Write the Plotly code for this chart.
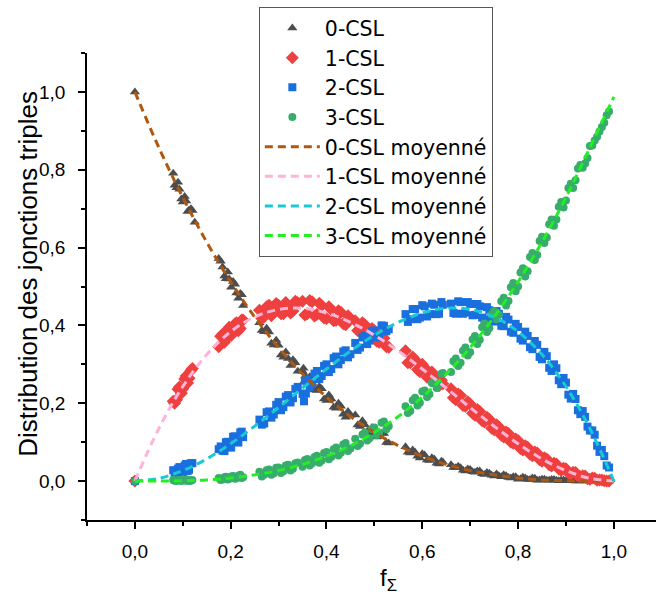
import plotly.graph_objects as go

# ---------------- data ----------------
F_SIGMA = [0.0,
    0.080, 0.087, 0.093, 0.100, 0.107, 0.113, 0.120,
    0.175, 0.183, 0.190, 0.197, 0.205, 0.212, 0.220, 0.226,
    0.260, 0.270, 0.280, 0.290, 0.300, 0.310, 0.320, 0.330, 0.340,
    0.350, 0.360, 0.370, 0.380, 0.390, 0.400, 0.410, 0.420, 0.430, 0.440, 0.450,
    0.460, 0.470, 0.480, 0.490, 0.500, 0.510, 0.520, 0.530,
    0.565, 0.575, 0.585, 0.595, 0.605, 0.615, 0.625, 0.635, 0.643,
    0.66, 0.67, 0.68, 0.69, 0.70, 0.71, 0.72, 0.73, 0.74, 0.75, 0.76, 0.77,
    0.78, 0.79, 0.80, 0.81, 0.82, 0.83, 0.84, 0.85, 0.86, 0.87, 0.88, 0.89,
    0.90, 0.91, 0.92, 0.93, 0.94, 0.95, 0.96, 0.97, 0.98, 0.99]

CSL0 = [1.0,
    0.791, 0.754, 0.750, 0.717, 0.720, 0.696, 0.695,
    0.572, 0.550, 0.520, 0.519, 0.513, 0.483, 0.482, 0.451,
    0.407, 0.384, 0.383, 0.350, 0.349, 0.318, 0.315, 0.312, 0.282,
    0.282, 0.249, 0.252, 0.233, 0.237, 0.207, 0.211, 0.187, 0.192, 0.164, 0.170,
    0.170, 0.140, 0.145, 0.122, 0.134, 0.115, 0.122, 0.098,
    0.088, 0.072, 0.074, 0.059, 0.067, 0.053, 0.057, 0.044, 0.049,
    0.042, 0.034, 0.034, 0.026, 0.030, 0.023, 0.026, 0.017, 0.020, 0.013, 0.014, 0.016,
    0.009, 0.011, 0.005, 0.010, 0.004, 0.008, 0.002, 0.005, 0.002, 0.004, 0.002, 0.003,
    0.001, 0.001, 0.000, 0.002, 0.000, 0.001, 0.000, 0.001, 0.000, 0.000]

CSL1 = [0.0,
    0.205, 0.209, 0.242, 0.237, 0.270, 0.264, 0.289,
    0.345, 0.377, 0.366, 0.395, 0.385, 0.407, 0.392, 0.414,
    0.439, 0.422, 0.452, 0.433, 0.452, 0.430, 0.449, 0.437, 0.458,
    0.462, 0.430, 0.461, 0.428, 0.451, 0.418, 0.441, 0.413, 0.434, 0.402, 0.418,
    0.412, 0.384, 0.402, 0.373, 0.386, 0.357, 0.367, 0.344,
    0.335, 0.304, 0.312, 0.281, 0.292, 0.264, 0.272, 0.245, 0.250,
    0.237, 0.209, 0.220, 0.192, 0.198, 0.169, 0.179, 0.152, 0.159, 0.132, 0.139, 0.113,
    0.122, 0.097, 0.104, 0.080, 0.087, 0.065, 0.072, 0.051, 0.057, 0.039, 0.044, 0.027,
    0.032, 0.018, 0.022, 0.011, 0.013, 0.005, 0.007, 0.003, 0.001, 0.000]

CSL2 = [0.0,
    0.028, 0.015, 0.036, 0.023, 0.044, 0.029, 0.046,
    0.082, 0.078, 0.100, 0.088, 0.114, 0.102, 0.125, 0.113,
    0.158, 0.148, 0.179, 0.171, 0.203, 0.190, 0.221, 0.213, 0.242,
    0.224, 0.261, 0.249, 0.283, 0.270, 0.300, 0.288, 0.320, 0.311, 0.336, 0.326,
    0.355, 0.343, 0.374, 0.361, 0.387, 0.373, 0.399, 0.390,
    0.429, 0.416, 0.442, 0.420, 0.449, 0.429, 0.453, 0.430, 0.453,
    0.456, 0.430, 0.460, 0.433, 0.455, 0.427, 0.449, 0.416, 0.439, 0.410, 0.430, 0.398,
    0.415, 0.381, 0.396, 0.361, 0.373, 0.339, 0.350, 0.313, 0.321, 0.283, 0.290, 0.249,
    0.253, 0.212, 0.211, 0.172, 0.165, 0.130, 0.119, 0.075, 0.064, 0.035]

CSL3 = [0.0,
    0.003, 0.000, 0.002, 0.004, 0.001, 0.000, 0.003,
    0.008, 0.004, 0.011, 0.006, 0.013, 0.007, 0.016, 0.010,
    0.024, 0.016, 0.030, 0.020, 0.035, 0.025, 0.042, 0.032, 0.048,
    0.037, 0.057, 0.046, 0.065, 0.053, 0.075, 0.062, 0.086, 0.073, 0.098, 0.084,
    0.109, 0.096, 0.125, 0.110, 0.138, 0.124, 0.153, 0.141,
    0.192, 0.180, 0.214, 0.201, 0.233, 0.223, 0.257, 0.248, 0.278,
    0.280, 0.315, 0.304, 0.343, 0.331, 0.373, 0.363, 0.405, 0.393, 0.437, 0.427, 0.471,
    0.463, 0.509, 0.500, 0.547, 0.539, 0.586, 0.581, 0.628, 0.626, 0.672, 0.672, 0.717,
    0.721, 0.764, 0.773, 0.812, 0.816, 0.861, 0.875, 0.898, 0.921, 0.950]

# second batch of simulations (interleaved f values)
F_SIGMA_B = [
    0.083, 0.090, 0.097, 0.104, 0.110, 0.117,
    0.179, 0.187, 0.194, 0.201, 0.209, 0.216, 0.223,
    0.265, 0.275, 0.285, 0.295, 0.305, 0.315, 0.325, 0.335,
    0.355, 0.365, 0.375, 0.385, 0.395, 0.405, 0.415, 0.425, 0.435, 0.445,
    0.465, 0.475, 0.485, 0.495, 0.505, 0.515, 0.525,
    0.570, 0.580, 0.590, 0.600, 0.610, 0.620, 0.630, 0.640,
    0.665, 0.675, 0.685, 0.695, 0.705, 0.715, 0.725, 0.735, 0.745, 0.755, 0.765,
    0.775, 0.785, 0.795, 0.805, 0.815, 0.825, 0.835, 0.845, 0.855, 0.865, 0.875,
    0.885, 0.895, 0.905, 0.915, 0.925, 0.935, 0.945, 0.955, 0.965, 0.975, 0.985]

CSL0_B = [
    0.760, 0.768, 0.725, 0.731, 0.693, 0.700,
    0.565, 0.527, 0.537, 0.498, 0.506, 0.470, 0.479,
    0.387, 0.393, 0.354, 0.362, 0.324, 0.332, 0.297, 0.304,
    0.258, 0.268, 0.234, 0.243, 0.211, 0.221, 0.190, 0.200, 0.172, 0.179,
    0.144, 0.155, 0.128, 0.138, 0.113, 0.123, 0.099,
    0.074, 0.080, 0.064, 0.070, 0.054, 0.060, 0.046, 0.051,
    0.035, 0.038, 0.028, 0.031, 0.024, 0.026, 0.019, 0.022, 0.015, 0.018, 0.011,
    0.014, 0.008, 0.011, 0.006, 0.008, 0.004, 0.007, 0.003, 0.005, 0.002, 0.004,
    0.001, 0.003, 0.001, 0.002, 0.000, 0.001, 0.000, 0.001, 0.000, 0.000, 0.000]

CSL1_B = [
    0.200, 0.236, 0.226, 0.262, 0.252, 0.284,
    0.372, 0.357, 0.390, 0.374, 0.404, 0.386, 0.414,
    0.418, 0.448, 0.425, 0.456, 0.430, 0.459, 0.432, 0.462,
    0.427, 0.464, 0.424, 0.457, 0.419, 0.448, 0.412, 0.438, 0.404, 0.425,
    0.387, 0.407, 0.374, 0.392, 0.359, 0.375, 0.345,
    0.304, 0.319, 0.287, 0.300, 0.267, 0.280, 0.249, 0.259,
    0.214, 0.224, 0.194, 0.204, 0.174, 0.184, 0.155, 0.164, 0.136, 0.145, 0.118,
    0.126, 0.100, 0.108, 0.084, 0.091, 0.069, 0.075, 0.055, 0.060, 0.042, 0.046,
    0.031, 0.033, 0.021, 0.023, 0.013, 0.014, 0.006, 0.008, 0.002, 0.003, 0.000]

CSL2_B = [
    0.012, 0.032, 0.018, 0.040, 0.026, 0.046,
    0.089, 0.077, 0.101, 0.086, 0.115, 0.099, 0.127,
    0.145, 0.177, 0.163, 0.196, 0.182, 0.217, 0.202, 0.237,
    0.258, 0.241, 0.276, 0.262, 0.296, 0.280, 0.316, 0.300, 0.333, 0.318,
    0.337, 0.369, 0.352, 0.385, 0.369, 0.400, 0.385,
    0.409, 0.442, 0.416, 0.452, 0.423, 0.456, 0.429, 0.460,
    0.432, 0.462, 0.430, 0.460, 0.426, 0.455, 0.420, 0.447, 0.411, 0.437, 0.399,
    0.422, 0.384, 0.404, 0.366, 0.384, 0.344, 0.360, 0.319, 0.332, 0.291, 0.300,
    0.259, 0.265, 0.222, 0.224, 0.182, 0.180, 0.140, 0.130, 0.091, 0.080, 0.040]

CSL3_B = [
    0.001, 0.003, 0.000, 0.002, 0.004, 0.001,
    0.003, 0.010, 0.004, 0.012, 0.006, 0.014, 0.008,
    0.012, 0.028, 0.016, 0.034, 0.021, 0.040, 0.027, 0.046,
    0.054, 0.040, 0.062, 0.047, 0.072, 0.056, 0.082, 0.066, 0.094, 0.077,
    0.090, 0.120, 0.104, 0.134, 0.118, 0.150, 0.133,
    0.175, 0.208, 0.194, 0.230, 0.216, 0.252, 0.239, 0.276,
    0.308, 0.296, 0.335, 0.323, 0.364, 0.352, 0.395, 0.383, 0.428, 0.416, 0.462,
    0.451, 0.498, 0.488, 0.536, 0.526, 0.576, 0.568, 0.617, 0.612, 0.660, 0.656,
    0.705, 0.703, 0.753, 0.753, 0.803, 0.805, 0.830, 0.862, 0.885, 0.910, 0.940]

# a few isolated points
EXTRA0_X = [0.125, 0.352, 0.356]
EXTRA0_Y = [0.665, 0.290, 0.270]
EXTRA2_X = [0.353, 0.357]
EXTRA2_Y = [0.205, 0.225]

# averaged curves
F_AVG = [0.0, 0.05, 0.10, 0.15, 0.20, 0.25, 0.30, 0.35, 0.40, 0.45, 0.50,
         0.55, 0.60, 0.65, 0.70, 0.75, 0.80, 0.85, 0.90, 0.95, 1.0]
AVG0 = [1.0, 0.857, 0.729, 0.614, 0.512, 0.422, 0.343, 0.275, 0.216, 0.166, 0.125,
        0.091, 0.064, 0.043, 0.027, 0.016, 0.008, 0.003, 0.001, 0.0, 0.0]
AVG1 = [0.0, 0.135, 0.243, 0.325, 0.384, 0.422, 0.441, 0.444, 0.432, 0.408, 0.375,
        0.334, 0.288, 0.239, 0.189, 0.141, 0.096, 0.057, 0.027, 0.007, 0.0]
AVG2 = [0.0, 0.007, 0.027, 0.057, 0.096, 0.141, 0.189, 0.239, 0.288, 0.334, 0.375,
        0.408, 0.432, 0.444, 0.441, 0.422, 0.384, 0.325, 0.243, 0.135, 0.0]
AVG3 = [0.0, 0.0, 0.001, 0.003, 0.008, 0.016, 0.027, 0.043, 0.064, 0.091, 0.125,
        0.166, 0.216, 0.275, 0.343, 0.422, 0.512, 0.614, 0.729, 0.857, 0.987]

NAMES = ["0-CSL", "1-CSL", "2-CSL", "3-CSL"]
AVG_NAMES = ["0-CSL moyenné", "1-CSL moyenné", "2-CSL moyenné", "3-CSL moyenné"]
X_TICKS = [0.0, 0.2, 0.4, 0.6, 0.8, 1.0]
Y_TICKS = [0.0, 0.2, 0.4, 0.6, 0.8, 1.0]
X_TITLE = "f<sub>Σ</sub>"
Y_TITLE = "Distribution des jonctions triples"

# ---------------- styles ----------------
MARKER_COLORS = ["#4d4d4d", "#ef4040", "#1a6fdf", "#37ad6b"]
MARKER_SYMBOLS = ["triangle-up", "diamond", "square", "circle"]
MARKER_SIZES = [9, 10, 8, 8]
LINE_COLORS = ["#b0580f", "#ffb3d9", "#17c9d3", "#22ee22"]
FONT = "Liberation Sans, Arial, sans-serif"
LEGEND_FONT = "DejaVu Sans, Liberation Sans, sans-serif"

fig = go.Figure()
series = [
    (F_SIGMA + F_SIGMA_B + EXTRA0_X, CSL0 + CSL0_B + EXTRA0_Y),
    (F_SIGMA + F_SIGMA_B, CSL1 + CSL1_B),
    (F_SIGMA + F_SIGMA_B + EXTRA2_X, CSL2 + CSL2_B + EXTRA2_Y),
    (F_SIGMA + F_SIGMA_B, CSL3 + CSL3_B),
]
for i, (xs, ys) in enumerate(series):
    fig.add_trace(go.Scatter(
        x=xs, y=ys, mode="markers", name=NAMES[i],
        marker=dict(symbol=MARKER_SYMBOLS[i], size=MARKER_SIZES[i],
                    color=MARKER_COLORS[i], line=dict(width=0))))
for i, ys in enumerate([AVG0, AVG1, AVG2, AVG3]):
    fig.add_trace(go.Scatter(
        x=F_AVG, y=ys, mode="lines", name=AVG_NAMES[i],
        line=dict(color=LINE_COLORS[i], width=3, dash="8px,5px", shape="spline")))

axis_common = dict(
    showline=True, linecolor="black", linewidth=1.5,
    ticks="outside", ticklen=7, tickwidth=1.5, tickcolor="black",
    showgrid=False, zeroline=False, mirror=False, automargin=False,
    tickfont=dict(family=FONT, size=19, color="black"),
    tickformat=".1f",
    minor=dict(ticks="outside", ticklen=4, tickwidth=1.5, tickcolor="black", dtick=0.1),
)

fig.update_layout(
    width=656, height=597,
    margin=dict(l=87, r=0, t=53, b=77, autoexpand=False),
    paper_bgcolor="white", plot_bgcolor="white",
    separators=", ",
    font=dict(family=FONT, color="black"),
    xaxis=dict(range=[-0.1, 1.088], tickvals=X_TICKS, ticklabelstandoff=6, **axis_common),
    yaxis=dict(range=[-0.1, 1.1], tickvals=Y_TICKS, ticklabelstandoff=9, **axis_common),
    legend=dict(x=0.302, y=1.098, xanchor="left", yanchor="top",
                bordercolor="#555555", borderwidth=1, bgcolor="white",
                font=dict(family=LEGEND_FONT, size=20.5, color="black"),
                itemwidth=55, tracegroupgap=0),
    showlegend=True,
    annotations=[
        dict(text=Y_TITLE, xref="paper", yref="paper", x=-0.104, y=0.527,
             xanchor="center", yanchor="middle", textangle=-90, showarrow=False,
             font=dict(family=FONT, size=26, color="black")),
        dict(text=X_TITLE, xref="paper", yref="paper", x=0.529, y=-0.128,
             xanchor="center", yanchor="middle", showarrow=False,
             font=dict(family=FONT, size=24, color="black")),
    ],
)

fig.write_html("out.html", config={"displayModeBar": False},
               post_script="document.body.style.margin='0px';")
